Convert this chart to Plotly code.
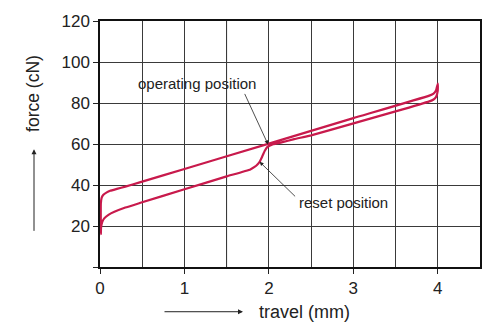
import plotly.graph_objects as go

# Hysteresis loop: forward (lower) branch then return (upper) branch
lower_x = [0.01, 0.012, 0.025, 0.05, 0.10, 0.17, 0.30, 0.47, 1.00, 1.50, 1.78, 1.83, 1.87, 1.89,
           1.92, 1.95, 1.98, 2.05, 2.15, 2.30, 2.50, 2.96, 3.50, 3.90, 3.95, 3.98, 4.00]
lower_y = [16, 19, 21.8, 23.7, 25.4, 26.9, 29.0, 31.2, 37.9, 44.2, 47.6, 48.8, 50.3, 51.3,
           53.8, 56.6, 58.5, 59.9, 60.8, 62.4, 64.2, 69.6, 75.9, 80.8, 81.7, 83.0, 86.0]
upper_x = [4.00, 3.98, 3.95, 3.90, 3.00, 2.00, 1.00, 0.47, 0.30, 0.20, 0.12, 0.08, 0.04, 0.02, 0.01, 0.01]
upper_y = [89.5, 86.2, 84.6, 83.6, 72.6, 60.2, 47.8, 41.3, 39.2, 38.1, 37.2, 36.4, 35.2, 33.8, 31.0, 16.0]

x_ticks = [0, 1, 2, 3, 4]
x_ticktext = ["0", "1", "2", "3", "4"]
y_ticks = [0, 20, 40, 60, 80, 100, 120]
y_ticktext = ["", "20", "40", "60", "80", "100", "120"]

operating_pt = (1.99, 59.8)
reset_pt = (1.89, 51.3)

LINE = "#c81a4c"
GRID = "#3a3a3a"
FONT = "Liberation Sans, Arial, sans-serif"

fig = go.Figure()
fig.add_trace(go.Scatter(
    x=lower_x + upper_x, y=lower_y + upper_y, mode="lines",
    line=dict(color=LINE, width=2.2, shape="spline", smoothing=0.3),
    hoverinfo="skip", showlegend=False))

fig.update_layout(
    width=500, height=332,
    margin=dict(l=100, r=20, t=14, b=65),
    paper_bgcolor="white", plot_bgcolor="white",
    font=dict(family=FONT, size=17, color="#222"),
    xaxis=dict(range=[0, 4.5], tickvals=x_ticks, ticktext=x_ticktext,
               showgrid=True, gridcolor=GRID, gridwidth=1,
               minor=dict(dtick=0.5, tick0=0, showgrid=True, gridcolor=GRID, gridwidth=1, ticks=""),
               ticks="outside", ticklen=5, tickcolor="#222",
               showline=True, mirror=True, linecolor="#111", linewidth=1.5,
               zeroline=False, fixedrange=True, tickfont=dict(size=17)),
    yaxis=dict(range=[0, 120], tickvals=y_ticks, ticktext=y_ticktext,
               showgrid=True, gridcolor=GRID, gridwidth=1,
               ticks="outside", ticklen=5, tickcolor="#222",
               showline=True, mirror=True, linecolor="#111", linewidth=1.5,
               zeroline=False, fixedrange=True, tickfont=dict(size=17)),
)

# lighter grid line at 1.5
fig.add_shape(type="line", xref="x", yref="paper", x0=1.5, x1=1.5, y0=0, y1=1,
              line=dict(color="#9a9a9a", width=1), layer="between")

def px2paper(px, py):
    return (px - 100) / 380.0, (267 - py) / 253.0

ann = []
# axis titles
tx, ty = px2paper(304, 313)
ann.append(dict(x=tx, y=ty, xref="paper", yref="paper", text="travel (mm)", showarrow=False,
                font=dict(size=18), xanchor="center", yanchor="middle"))
ax_, ay_ = px2paper(243, 313)
ann.append(dict(x=ax_, y=ay_, xref="paper", yref="paper", text="", showarrow=True,
                ax=-80, ay=0, arrowhead=2, arrowsize=1, arrowwidth=1, arrowcolor="#222"))
fx, fy = px2paper(33, 89)
ann.append(dict(x=fx, y=fy, xref="paper", yref="paper", text="force (cN)", showarrow=False,
                textangle=-90, font=dict(size=17.5), xanchor="center", yanchor="middle"))
vx, vy = px2paper(34, 146)
ann.append(dict(x=vx, y=vy, xref="paper", yref="paper", text="", showarrow=True,
                ax=0, ay=83, arrowhead=2, arrowsize=1, arrowwidth=1, arrowcolor="#222"))
# callouts
ox, oy = px2paper(197, 78)
ann.append(dict(x=ox, y=oy, xref="paper", yref="paper", text="operating position", showarrow=False,
                font=dict(size=15), xanchor="center", yanchor="middle"))
ann.append(dict(x=operating_pt[0], y=operating_pt[1], xref="x", yref="y", text="", showarrow=True,
                ax=-24, ay=-52, arrowhead=2, arrowsize=1, arrowwidth=0.8, arrowcolor="#222"))
rx, ry = px2paper(343, 201)
ann.append(dict(x=rx, y=ry, xref="paper", yref="paper", text="reset position", showarrow=False,
                font=dict(size=15), xanchor="center", yanchor="middle"))
ann.append(dict(x=reset_pt[0], y=reset_pt[1], xref="x", yref="y", text="", showarrow=True,
                ax=37, ay=36, arrowhead=2, arrowsize=1, arrowwidth=0.8, arrowcolor="#222"))
fig.update_layout(annotations=ann)

fig.write_html("out.html")
